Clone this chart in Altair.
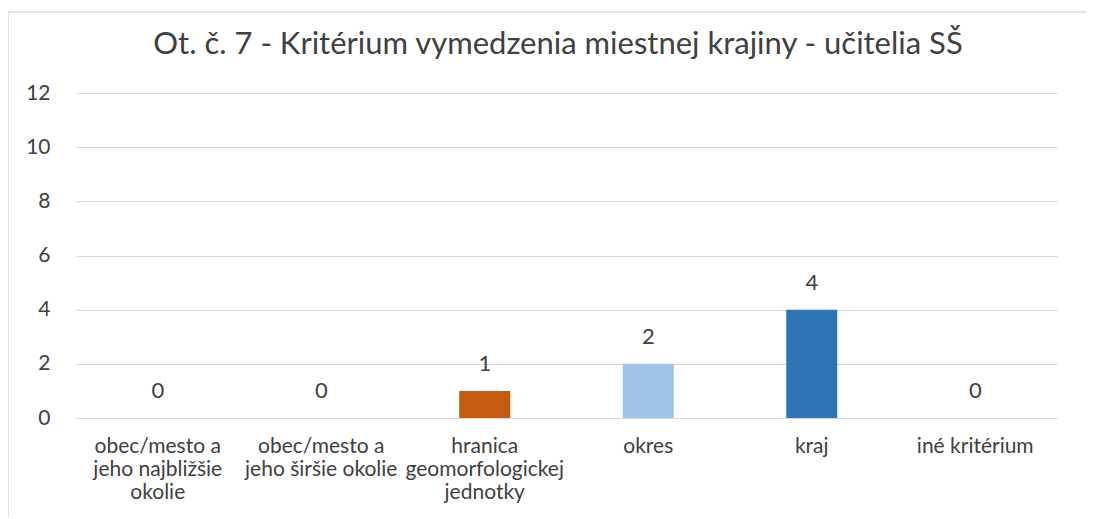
import altair as alt
import pandas as pd

title_text = "Ot. č. 7 - Kritérium vymedzenia miestnej krajiny - učitelia SŠ"
categories = ["obec/mesto a jeho najbližšie okolie", "obec/mesto a jeho širšie okolie",
              "hranica geomorfologickej jednotky", "okres", "kraj", "iné kritérium"]
label_lines = ["obec/mesto a|jeho najbližšie|okolie", "obec/mesto a|jeho širšie okolie",
               "hranica|geomorfologickej|jednotky", "okres", "kraj", "iné kritérium"]
values = [0, 0, 1, 2, 4, 0]
colors = ["#4472C4", "#ED7D31", "#C55A11", "#9DC3E6", "#2E75B6", "#A5A5A5"]

df = pd.DataFrame({"cat": categories, "label": label_lines, "value": values, "color": colors})

label_map = "{" + ",".join(f"'{c}':'{l}'" for c, l in zip(categories, label_lines)) + "}"
FONT = "Lato"

x = alt.X("cat:N", sort=categories, title=None,
          scale=alt.Scale(paddingInner=0, paddingOuter=0),
          axis=alt.Axis(labelExpr=f"split({label_map}[datum.label], '|')", labelAngle=0,
                        labelFont=FONT, labelFontSize=21, labelColor="#404040",
                        labelPadding=17, labelLineHeight=23, ticks=False,
                        domainColor="#d9d9d9", labelLimit=220))
y = alt.Y("value:Q", title=None,
          scale=alt.Scale(domain=[0, 12]),
          axis=alt.Axis(values=[0, 2, 4, 6, 8, 10, 12], labelFont=FONT, labelFontSize=21,
                        labelColor="#404040", ticks=False, domain=False,
                        gridColor="#d9d9d9", labelPadding=26))

bars = alt.Chart(df).mark_bar(size=51).encode(
    x=x, y=y, color=alt.Color("color:N", scale=None))
text = alt.Chart(df).mark_text(baseline="bottom", dy=-15, font=FONT, fontSize=22,
                               color="#404040").encode(
    x=alt.X("cat:N", sort=categories), y="value:Q", text="value:Q")

title_df = pd.DataFrame({"t": [title_text]})
title = alt.Chart(title_df).mark_text(font=FONT, fontSize=31, color="#404040",
                                      baseline="middle", align="center").encode(
    x=alt.value(482), y=alt.value(-48), text="t:N")

border_df = pd.DataFrame({"k": [0]})
top_border = alt.Chart(border_df).mark_rule(color="#c8c8c8", strokeWidth=1).encode(
    x=alt.value(-68), x2=alt.value(1020), y=alt.value(-81))
left_border = alt.Chart(border_df).mark_rule(color="#c8c8c8", strokeWidth=1).encode(
    x=alt.value(-68), y=alt.value(-81), y2=alt.value(460))

chart = alt.layer(bars, text, title, top_border, left_border).properties(
    width=981, height=325,
    autosize=alt.AutoSizeParams(type="none"),
    padding={"left": 68, "top": 85, "right": 30, "bottom": 100},
    background="white",
).configure_view(strokeWidth=0)

chart.save("out.html", embed_options={"renderer": "svg", "actions": False})
